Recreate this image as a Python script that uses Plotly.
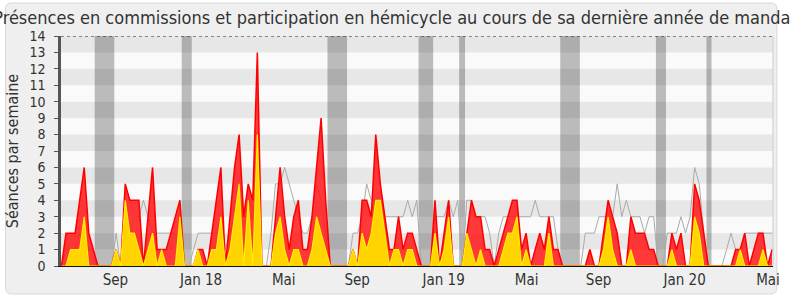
import plotly.graph_objects as go

# ---------------- data (weekly values) ----------------
weeks = list(range(157))

hemicycle = [
    0, 2, 2, 2, 4, 6, 2, 1, 0, 0,
    0, 0, 1, 0, 5, 4, 4, 4, 0, 3,
    6, 1, 1, 1, 2, 3, 4, 0, 0, 0,
    1, 1, 0, 2, 4, 6, 0, 3, 6, 8,
    3, 5, 4, 13, 0, 0, 0, 3, 6, 3,
    1, 3, 4, 1, 1, 3, 6, 9, 4, 0,
    0, 0, 0, 0, 1, 0, 4, 4, 3, 8,
    5, 3, 1, 1, 3, 1, 2, 2, 1, 0,
    0, 0, 4, 0, 2, 4, 0, 0, 0, 2,
    4, 3, 3, 1, 1, 0, 1, 2, 3, 4,
    4, 1, 2, 0, 1, 2, 1, 3, 1, 1,
    0, 0, 0, 0, 0, 0, 1, 0, 0, 2,
    4, 3, 2, 0, 0, 3, 2, 2, 2, 1,
    1, 0, 0, 0, 2, 1, 2, 0, 0, 5,
    4, 2, 0, 0, 0, 0, 0, 0, 1, 1,
    2, 0, 1, 2, 2, 0, 1,
]

commission = [
    0, 0, 1, 1, 1, 3, 0, 0, 0, 0,
    0, 0, 1, 0, 4, 2, 2, 1, 0, 1,
    2, 0, 1, 0, 0, 0, 3, 0, 0, 0,
    1, 0, 0, 1, 1, 3, 0, 1, 3, 5,
    0, 4, 0, 8, 0, 0, 0, 2, 3, 1,
    0, 1, 1, 0, 0, 1, 3, 2, 1, 0,
    0, 0, 0, 0, 1, 0, 2, 1, 2, 4,
    4, 2, 0, 1, 1, 0, 1, 1, 0, 0,
    0, 0, 2, 0, 1, 3, 0, 0, 0, 2,
    1, 0, 1, 0, 0, 0, 0, 1, 2, 2,
    3, 0, 1, 0, 0, 0, 0, 2, 0, 0,
    0, 0, 0, 0, 0, 0, 0, 0, 0, 1,
    3, 1, 0, 0, 0, 1, 0, 0, 0, 0,
    0, 0, 0, 0, 1, 0, 0, 0, 0, 3,
    2, 0, 0, 0, 0, 0, 0, 0, 0, 1,
    0, 0, 0, 0, 1, 0, 0,
]

mediane = [
    0, 1, 1, 1, 2, 2, 1, 1, 0, 0,
    0, 0, 2, 0, 2, 2, 3, 3, 4, 3,
    2, 2, 2, 2, 2, 2, 2, 0, 0, 1,
    2, 2, 2, 2, 2, 3, 1, 2, 3, 3,
    3, 3, 3, 2, 0, 0, 2, 5, 5, 6,
    5, 4, 3, 2, 2, 3, 5, 4, 2, 0,
    0, 0, 0, 0, 2, 2, 3, 5, 4, 4,
    4, 3, 3, 3, 3, 3, 4, 3, 4, 0,
    0, 0, 3, 3, 3, 4, 3, 4, 0, 4,
    4, 3, 3, 3, 2, 0, 2, 3, 3, 3,
    3, 3, 3, 3, 4, 3, 3, 3, 3, 1,
    0, 0, 0, 0, 0, 2, 2, 2, 3, 3,
    3, 3, 5, 3, 4, 3, 3, 3, 2, 3,
    3, 0, 0, 2, 2, 2, 3, 2, 3, 6,
    5, 2, 0, 0, 0, 0, 1, 2, 1, 1,
    2, 2, 2, 2, 2, 2, 2,
]

# parliamentary breaks (in week units)
vacances = [(7.3, 11.6), (26.4, 28.6), (58.4, 62.7), (78.4, 81.6),
            (87.3, 88.6), (109.5, 113.8), (130.5, 132.7), (141.6, 142.7)]

tick_pos = [11.85, 30.65, 48.8, 64.9, 83.9, 102.1, 117.9, 136.8, 155.1]
tick_text = ["Sep", "Jan 18", "Mai", "Sep", "Jan 19", "Mai", "Sep", "Jan 20", "Mai"]
y_max = 14

# ---------------- styling ----------------
FONT = "DejaVu Sans Condensed, Liberation Sans, Arial, sans-serif"
TXT = "#333333"
W, H = 790, 300
L, R, T, B = 61, 10, 36, 34
PW, PH = W - L - R, H - T - B


def to_paper(px, py):
    return (px - L) / PW, (H - B - py) / PH


def rounded_path(x0, y0, x1, y1, r):
    pts = [
        ("M", [(x0 + r, y0)]), ("L", [(x1 - r, y0)]), ("Q", [(x1, y0), (x1, y0 + r)]),
        ("L", [(x1, y1 - r)]), ("Q", [(x1, y1), (x1 - r, y1)]),
        ("L", [(x0 + r, y1)]), ("Q", [(x0, y1), (x0, y1 - r)]),
        ("L", [(x0, y0 + r)]), ("Q", [(x0, y0), (x0 + r, y0)]),
    ]
    s = ""
    for cmd, ps in pts:
        s += cmd + " " + " ".join("%.5f,%.5f" % to_paper(px, py) for px, py in ps) + " "
    return s + "Z"


shapes = []
# outer rounded panel
shapes.append(dict(type="path", path=rounded_path(5, 3, 784, 294, 6), xref="paper", yref="paper",
                   fillcolor="#efefef", line=dict(color="#d9d9d9", width=1), layer="below"))
# plot background
shapes.append(dict(type="rect", xref="paper", yref="paper", x0=0, x1=1, y0=0, y1=1,
                   fillcolor="#fafafa", line=dict(width=0), layer="below"))
# vacation bands
for a, b in vacances:
    shapes.append(dict(type="rect", xref="x", yref="paper", x0=a, x1=b, y0=0, y1=1,
                       fillcolor="#bbbbbb", line=dict(width=0), layer="below"))
# alternating stripes
for k in range(1, y_max, 2):
    shapes.append(dict(type="rect", xref="paper", yref="y", x0=0, x1=1, y0=k, y1=k + 1,
                       fillcolor="rgba(0,0,0,0.075)", line=dict(width=0), layer="below"))
# top dotted line
shapes.append(dict(type="line", xref="paper", yref="y", x0=0, x1=1, y0=y_max, y1=y_max,
                   line=dict(color="#222222", width=1, dash="dot"), layer="above"))
# right border
shapes.append(dict(type="line", xref="paper", yref="paper", x0=1, x1=1, y0=0, y1=1,
                   line=dict(color="#cccccc", width=1), layer="above"))

fig = go.Figure()
fig.add_trace(go.Scatter(x=weeks, y=mediane, mode="lines",
                         line=dict(color="#aaaaaa", width=1), hoverinfo="skip", showlegend=False))
fig.add_trace(go.Scatter(x=weeks, y=hemicycle, mode="lines", fill="tozeroy",
                         fillcolor="rgba(255,30,30,0.88)", line=dict(color="#ff0000", width=1.5),
                         showlegend=False))
fig.add_trace(go.Scatter(x=weeks, y=commission, mode="lines", fill="tozeroy",
                         fillcolor="rgb(255,212,0)", line=dict(color="rgb(255,238,0)", width=1.2),
                         showlegend=False))

fig.update_layout(
    width=W, height=H,
    margin=dict(l=L, r=R, t=T, b=B, pad=0),
    paper_bgcolor="white", plot_bgcolor="rgba(0,0,0,0)",
    font=dict(family=FONT, color=TXT, size=14),
    title=dict(text="Présences en commissions et participation en hémicycle au cours de sa dernière année de mandat",
               x=0.5, xanchor="center", xref="container", y=1 - 18 / H, yref="container", yanchor="middle",
               font=dict(family=FONT, size=18, color=TXT)),
    shapes=shapes,
    xaxis=dict(range=[-0.1, 156.2], showgrid=False, zeroline=False, tickmode="array",
               tickvals=tick_pos, ticktext=tick_text, ticks="", showline=True,
               linecolor="#111111", linewidth=1, tickfont=dict(size=15, color=TXT),
               fixedrange=True),
    yaxis=dict(range=[0, y_max], showgrid=False, zeroline=False, dtick=1, tick0=0,
               ticks="outside", ticklen=4, tickcolor="#555555", tickwidth=1,
               showline=True, linecolor="#555555", linewidth=2.5,
               tickfont=dict(size=14, color=TXT), ticklabelstandoff=6,
               title=dict(text="Séances par semaine", font=dict(size=16, color=TXT), standoff=7),
               fixedrange=True),
)

fig.write_html("out.html")
